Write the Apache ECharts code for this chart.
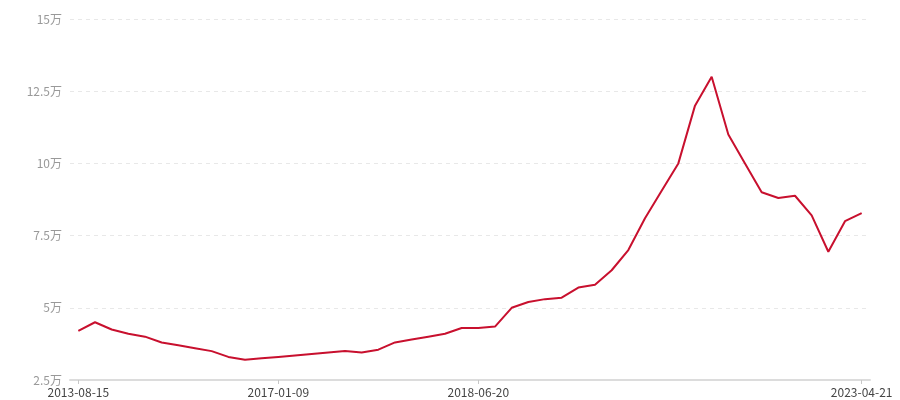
<!DOCTYPE html>
<html>
<head>
<meta charset="utf-8">
<script src="https://cdn.jsdelivr.net/npm/echarts@6/dist/echarts.min.js"></script>
<style>html,body{margin:0;padding:0;background:#fff;}#c{width:900px;height:400px;}</style>
</head>
<body>
<div id="c"></div>
<script>
var dates = ["2013-08-15","2013-11-20","2014-02-18","2014-05-26","2014-08-29","2014-12-03","2015-03-10","2015-06-16","2015-09-22","2015-12-28","2016-04-05","2016-08-18","2017-01-09","2017-02-22","2017-04-06","2017-05-19","2017-06-30","2017-08-14","2017-09-26","2017-11-08","2017-12-21","2018-02-05","2018-03-20","2018-05-04","2018-06-20","2018-09-05","2018-11-20","2019-02-06","2019-04-23","2019-07-09","2019-09-24","2019-12-10","2020-02-25","2020-05-12","2020-07-28","2020-10-13","2020-12-29","2021-03-16","2021-06-01","2021-08-17","2021-11-02","2022-01-18","2022-04-05","2022-06-21","2022-09-06","2022-11-22","2023-02-07","2023-04-21"];
var prices = [42000,45000,42500,41000,40000,38000,37000,36000,35000,33000,32000,32500,33000,33500,34000,34500,35000,34500,35500,38000,39000,40000,41000,43000,43000,43500,50000,52000,53000,53500,57000,58000,63000,70000,81000,90500,100000,120000,130000,110000,100000,90000,88000,88800,82000,69400,80000,82800];
var shownLabelIdx = [0,12,24,47];
var yMin = 25000, yMax = 150000, yStep = 25000;

var chart = echarts.init(document.getElementById('c'));
function showIdx(i){ return shownLabelIdx.indexOf(i) >= 0; }
chart.setOption({
  animation: false,
  grid: {left: 70, right: 30, top: 19, bottom: 20},
  xAxis: {
    type: 'category',
    data: dates,
    boundaryGap: true,
    axisLine: {lineStyle: {color: '#dcdcdc', width: 2}},
    axisTick: {show: true, alignWithLabel: true, interval: function(i){return showIdx(i);}, length: 4, lineStyle: {color: '#c8c8c8'}},
    axisLabel: {interval: function(i){return showIdx(i);}, color: '#444', fontSize: 12, margin: 6, fontFamily: 'Noto Sans CJK SC'},
    splitLine: {show: false}
  },
  yAxis: {
    type: 'value',
    min: yMin, max: yMax, interval: yStep,
    axisLine: {show: false},
    axisTick: {show: false},
    axisLabel: {color: '#999', fontSize: 12, margin: 8, fontFamily: 'Noto Sans CJK SC', formatter: function(v){return (v/10000) + '万';}},
    splitLine: {lineStyle: {color: '#e8e8e8', type: [4, 4], width: 1}}
  },
  series: [{
    type: 'line',
    data: prices,
    showSymbol: false,
    symbol: 'none',
    lineStyle: {color: '#c8102e', width: 2},
    itemStyle: {color: '#c8102e'}
  }]
});
</script>
</body>
</html>
